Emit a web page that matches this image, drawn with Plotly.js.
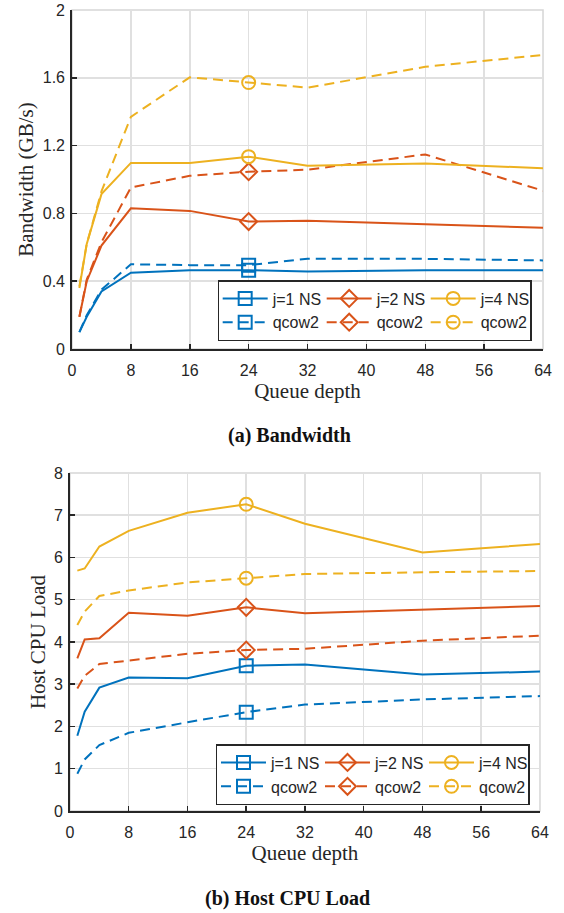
<!DOCTYPE html>
<html><head><meta charset="utf-8">
<script src="https://cdn.plot.ly/plotly-3.0.1.min.js"></script>
<style>html,body{margin:0;padding:0;background:#fff}</style>
</head><body><div id="chart" style="width:564px;height:913px"></div>
<script>
const queueDepth = [1, 2, 4, 8, 16, 24, 32, 48, 64];
const xTicks = [0, 8, 16, 24, 32, 40, 48, 56, 64];
const bwTicks = [0, 0.4, 0.8, 1.2, 1.6, 2];
const bwTickText = ['0', '0.4', '0.8', '1.2', '1.6', '2'];
const cpuTicks = [0, 1, 2, 3, 4, 5, 6, 7, 8];
const seriesNames = ['j=1 NS', 'qcow2', 'j=2 NS', 'qcow2', 'j=4 NS', 'qcow2'];

const bwJ1NS   = [0.10, 0.19, 0.34, 0.45, 0.465, 0.465, 0.457, 0.465, 0.465];
const bwJ1Qcow = [0.10, 0.20, 0.35, 0.50, 0.495, 0.495, 0.533, 0.532, 0.523];
const bwJ2NS   = [0.19, 0.40, 0.61, 0.83, 0.815, 0.752, 0.757, 0.737, 0.716];
const bwJ2Qcow = [0.19, 0.41, 0.63, 0.953, 1.022, 1.046, 1.058, 1.148, 0.934];
const bwJ4NS   = [0.36, 0.62, 0.914, 1.098, 1.098, 1.135, 1.081, 1.095, 1.066];
const bwJ4Qcow = [0.37, 0.62, 0.93, 1.37, 1.603, 1.572, 1.542, 1.665, 1.735];

const cpuJ1NS   = [1.78, 2.35, 2.92, 3.16, 3.14, 3.44, 3.47, 3.23, 3.30];
const cpuJ1Qcow = [0.88, 1.22, 1.56, 1.85, 2.10, 2.34, 2.52, 2.64, 2.72];
const cpuJ2NS   = [3.61, 4.06, 4.09, 4.69, 4.62, 4.82, 4.68, 4.76, 4.85];
const cpuJ2Qcow = [2.90, 3.20, 3.48, 3.56, 3.72, 3.81, 3.84, 4.03, 4.15];
const cpuJ4NS   = [5.69, 5.74, 6.26, 6.63, 7.06, 7.26, 6.80, 6.12, 6.32];
const cpuJ4Qcow = [4.40, 4.72, 5.09, 5.22, 5.41, 5.51, 5.61, 5.65, 5.68];

const BLUE = '#0072BD', RED = '#D95319', YEL = '#EDB120';
const DARK = '#262626', GRID = '#e0e0e0';
const SANS = 'Liberation Sans, Arial, sans-serif';
const SERIF = 'Liberation Serif, Times New Roman, serif';
const markedX = 24;
const markedIdx = [queueDepth.indexOf(markedX)];

function makeTrace(y, name, color, sym, dashed, group, xa, ya, leg) {
  return {
    x: queueDepth, y: y, name: name, type: 'scatter', mode: 'lines+markers',
    line: {color: color, width: 2, dash: dashed ? '10px,6px' : 'solid'},
    marker: {symbol: sym, size: 13, color: color, line: {color: color, width: 2}},
    selectedpoints: markedIdx,
    selected: {marker: {opacity: 1}},
    unselected: {marker: {opacity: 0}},
    legendgroup: group, xaxis: xa, yaxis: ya, legend: leg, hoverinfo: 'skip'
  };
}

const bwSeries = [bwJ1NS, bwJ1Qcow, bwJ2NS, bwJ2Qcow, bwJ4NS, bwJ4Qcow];
const cpuSeries = [cpuJ1NS, cpuJ1Qcow, cpuJ2NS, cpuJ2Qcow, cpuJ4NS, cpuJ4Qcow];
const colors = [BLUE, BLUE, RED, RED, YEL, YEL];
const syms = ['square-open', 'square-open', 'diamond-open', 'diamond-open', 'circle-open', 'circle-open'];
const groups = ['g1', 'g1', 'g2', 'g2', 'g4', 'g4'];

const data = [];
bwSeries.forEach((s, i) => data.push(makeTrace(s, seriesNames[i], colors[i], syms[i], i % 2 === 1, 'a' + groups[i], 'x', 'y', 'legend')));
cpuSeries.forEach((s, i) => data.push(makeTrace(s, seriesNames[i], colors[i], syms[i], i % 2 === 1, 'b' + groups[i], 'x2', 'y2', 'legend2')));

function xAxis(domain, anchor) {
  return {
    domain: domain, anchor: anchor, range: [0, 64], tickvals: xTicks, ticktext: xTicks.map(String),
    ticks: 'inside', ticklen: 5, tickwidth: 1.5, tickcolor: DARK,
    showline: true, linecolor: DARK, linewidth: 1.8,
    showgrid: true, gridcolor: GRID, gridwidth: 1.5, zeroline: false,
    tickfont: {family: SANS, size: 16, color: DARK}, ticklabelstandoff: 6,
    title: {text: 'Queue depth', font: {family: SERIF, size: 21, color: DARK}, standoff: 4},
    automargin: false, fixedrange: true
  };
}
function yAxis(domain, anchor, range, tv, tt, title) {
  return {
    domain: domain, anchor: anchor, range: range, tickvals: tv, ticktext: tt,
    ticks: 'inside', ticklen: 5, tickwidth: 1.5, tickcolor: DARK,
    showline: true, linecolor: DARK, linewidth: 1.8,
    showgrid: true, gridcolor: GRID, gridwidth: 1.5, zeroline: false,
    tickfont: {family: SANS, size: 16, color: DARK}, ticklabelstandoff: 2,
    title: {text: title, font: {family: SERIF, size: 21, color: DARK}, standoff: 3},
    automargin: false, fixedrange: true
  };
}
function legendAt(x, y) {
  return {
    orientation: 'h', traceorder: 'grouped', x: x, xanchor: 'right', y: y, yanchor: 'bottom',
    bgcolor: '#ffffff', bordercolor: DARK, borderwidth: 1.5,
    font: {family: SANS, size: 16, color: DARK}, itemwidth: 45,
    entrywidth: 44, tracegroupgap: 0
  };
}
function box(xr, yr) {
  return {type: 'rect', xref: xr + ' domain', yref: yr + ' domain', x0: 0, x1: 1, y0: 0, y1: 1,
    line: {color: '#d6d6d6', width: 1.5}, layer: 'below'};
}

const layout = {
  width: 564, height: 913, margin: {l: 0, r: 0, t: 0, b: 0},
  paper_bgcolor: '#fff', plot_bgcolor: '#fff', showlegend: true,
  xaxis: xAxis([0.1277, 0.9628], 'y'),
  yaxis: yAxis([0.6177, 0.98905], 'x', [0, 2], bwTicks, bwTickText, 'Bandwidth (GB/s)'),
  xaxis2: xAxis([0.1241, 0.9574], 'y2'),
  yaxis2: yAxis([0.11172, 0.48193], 'x2', [0, 8], cpuTicks, cpuTicks.map(String), 'Host CPU Load'),
  legend: legendAt(0.9427, 0.6265),
  legend2: legendAt(0.9397, 0.1182),
  shapes: [box('x', 'y'), box('x2', 'y2')],
  annotations: [
    {text: '<b>(a) Bandwidth</b>', xref: 'paper', yref: 'paper', x: 0.5137, y: 0.5225, xanchor: 'center', yanchor: 'middle', showarrow: false, font: {family: SERIF, size: 20, color: '#111'}},
    {text: '<b>(b) Host CPU Load</b>', xref: 'paper', yref: 'paper', x: 0.5098, y: 0.0164, xanchor: 'center', yanchor: 'middle', showarrow: false, font: {family: SERIF, size: 20, color: '#111'}}
  ]
};

Plotly.newPlot('chart', data, layout, {displayModeBar: false, staticPlot: true});
</script></body></html>
